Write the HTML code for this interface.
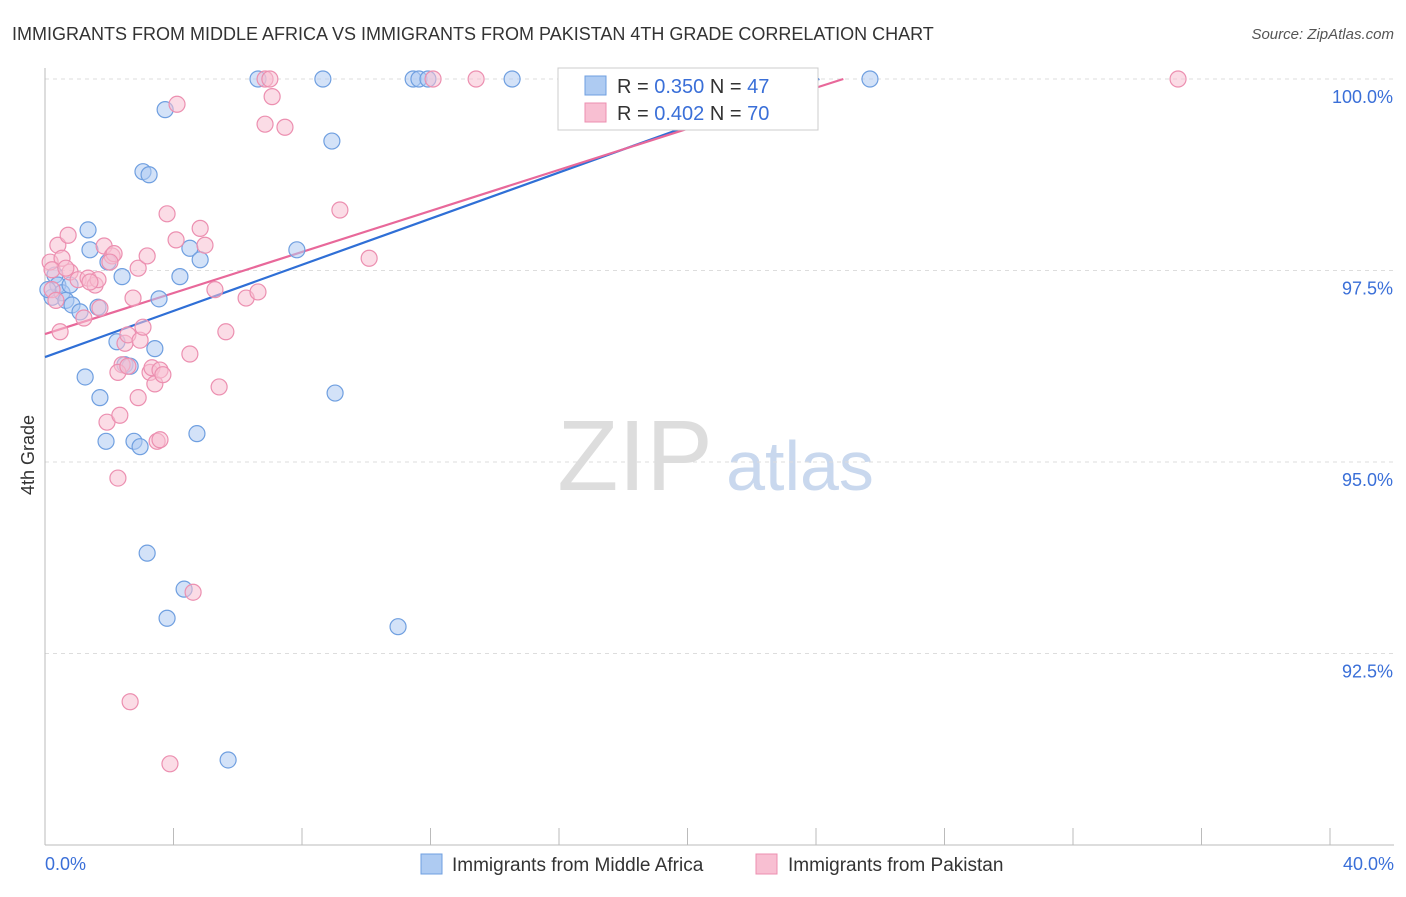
<!DOCTYPE html>
<html><head><meta charset="utf-8"><style>
body{margin:0;background:#fff;font-family:"Liberation Sans",sans-serif;}
svg text{font-family:"Liberation Sans",sans-serif;}
</style></head><body>
<svg id="chart" width="1406" height="892" xmlns="http://www.w3.org/2000/svg">
<text x="12" y="40" font-size="18" fill="#333">IMMIGRANTS FROM MIDDLE AFRICA VS IMMIGRANTS FROM PAKISTAN 4TH GRADE CORRELATION CHART</text>
<text x="1394" y="39" font-size="15" fill="#555" text-anchor="end" font-style="italic">Source: ZipAtlas.com</text>
<text transform="translate(34,455) rotate(-90)" font-size="18" fill="#333" text-anchor="middle">4th Grade</text>
<g>
<text x="635" y="490" font-size="100" fill="#ddd" font-family="Liberation Serif,serif" text-anchor="middle">ZIP</text>
<text x="800" y="490" font-size="70" fill="#c9d8ee" text-anchor="middle">atlas</text>
</g>
<g id="grid"></g><g id="axes"></g><g id="lines"></g><g id="pts"></g>
<g>
<rect x="558" y="68" width="260" height="62" fill="#fff" stroke="#ccc"/>
<rect x="585" y="76" width="21" height="19" fill="#aecbf2" stroke="#6f9fe0"/>
<rect x="585" y="103" width="21" height="19" fill="#f8bfd2" stroke="#ec8fb0"/>
<text x="617" y="93" font-size="20" fill="#333">R = <tspan fill="#3a6fd8">0.350</tspan>   N = <tspan fill="#3a6fd8">47</tspan></text>
<text x="617" y="120" font-size="20" fill="#333">R = <tspan fill="#3a6fd8">0.402</tspan>   N = <tspan fill="#3a6fd8">70</tspan></text>
</g>
<g>
<rect x="421" y="854" width="21" height="20" fill="#aecbf2" stroke="#6f9fe0"/>
<text x="452" y="871" font-size="19" fill="#333">Immigrants from Middle Africa</text>
<rect x="756" y="854" width="21" height="20" fill="#f8bfd2" stroke="#ec8fb0"/>
<text x="788" y="871" font-size="19" fill="#333">Immigrants from Pakistan</text>
</g>
</svg>
<script>
const yTicks=[100,97.5,95,92.5];
const yTickLabels=["100.0%","97.5%","95.0%","92.5%"];
const xEndLabels=["0.0%","40.0%"];
const blueX=[0.22,0.31,0.40,0.53,0.65,0.84,1.09,1.34,1.65,1.40,1.96,2.40,2.24,2.49,2.65,3.42,3.55,4.20,4.51,4.83,3.74,3.05,3.24,7.84,8.93,1.25,1.71,1.90,2.77,2.96,4.73,9.03,3.18,4.33,3.80,10.99,5.70,6.63,8.65,11.46,11.64,11.92,14.54,25.68,0.09,0.78];
const blueY=[97.15,97.44,97.31,97.21,97.11,97.05,96.96,98.03,97.02,97.77,97.61,97.42,96.57,96.27,96.25,96.48,97.13,97.42,97.79,97.64,99.60,98.79,98.75,97.77,99.19,96.11,95.84,95.27,95.27,95.20,95.37,95.90,93.81,93.34,92.96,92.85,91.11,100,100,100,100,100,100,100,97.25,97.31];
const pinkX=[0.16,0.40,0.22,0.47,0.72,0.53,0.78,1.03,1.21,1.34,1.56,1.65,1.71,1.84,2.09,2.15,2.27,2.40,2.49,2.58,2.74,2.90,2.96,3.05,3.18,3.27,3.33,3.42,3.49,3.58,3.67,3.80,4.08,4.11,4.51,4.83,4.98,5.29,5.42,5.63,6.26,6.63,6.85,7.00,7.07,6.85,7.47,9.18,10.09,12.08,13.42,16.34,35.27,2.65,3.89,4.61,1.93,2.33,2.90,0.22,0.34,0.65,1.40,2.02,2.27,3.58,2.58];
const pinkY=[97.61,97.83,97.25,96.70,97.96,97.66,97.48,97.38,96.88,97.40,97.31,97.38,97.01,97.82,97.69,97.72,94.79,96.27,96.55,96.66,97.14,97.53,96.59,96.76,97.69,96.17,96.23,96.02,95.27,96.20,96.14,98.24,97.90,99.67,96.41,98.05,97.83,97.25,95.98,96.70,97.14,97.22,100,100,99.77,99.41,99.37,98.29,97.66,100,100,100,100,91.87,91.06,93.30,95.52,95.61,95.84,97.51,97.11,97.53,97.35,97.61,96.17,95.29,96.25];
const trendIntercept=[96.37,96.67];
const trendSlope=[0.1506,0.134];
const NS="http://www.w3.org/2000/svg";
const sx=v=>45+v/40*1285;
const sy=v=>79+(100-v)*76.6;
function mk(parent,tag,attrs){const e=document.createElementNS(NS,tag);for(const k in attrs)e.setAttribute(k,attrs[k]);document.getElementById(parent).appendChild(e);return e;}
yTicks.forEach((t,i)=>{
 const l=mk('grid','line',{x1:45,x2:1394,y1:sy(t),y2:sy(t),stroke:'#ddd','stroke-dasharray':'4,4'});
 
 
 const tx=mk('axes','text',{x:1393,y:sy(t)+24,'font-size':18,fill:'#3a6fd8','text-anchor':'end'});
 tx.textContent=yTickLabels[i];
 
 
});
const ax=mk('axes','line',{x1:45,x2:1394,y1:845,y2:845,stroke:'#bbb'});


const ay=mk('axes','line',{x1:45,x2:45,y1:68,y2:845,stroke:'#bbb'});


for(let i=0;i<=10;i++){
 const t=mk('axes','line',{x1:sx(i*4),x2:sx(i*4),y1:828,y2:845,stroke:'#bbb'});
 
 
}
[[0,'start',45],[40,'end',1394]].forEach((d,i)=>{
 const tx=mk('axes','text',{x:d[2],y:870,'font-size':18,fill:'#3a6fd8','text-anchor':d[1]});
 tx.textContent=xEndLabels[i];
 
 
});
const cols=[['#aecbf2','#6f9fe0','#2f6fd6'],['#f8bfd2','#ec8fb0','#e8689a']];
[[blueX,blueY],[pinkX,pinkY]].forEach((s,k)=>{
 s[0].forEach((x,i)=>{
  const c=mk('pts','circle',{cx:sx(x),cy:sy(s[1][i]),r:8,fill:cols[k][0],'fill-opacity':0.55,stroke:cols[k][1],'stroke-width':1.2});
  
  
 });
 const xe=(100-trendIntercept[k])/trendSlope[k];
 const ln=mk('lines','line',{x1:sx(0),y1:sy(trendIntercept[k]),x2:sx(xe),y2:sy(100),stroke:cols[k][2],'stroke-width':2.2});
 
 
});
</script>
</body></html>
